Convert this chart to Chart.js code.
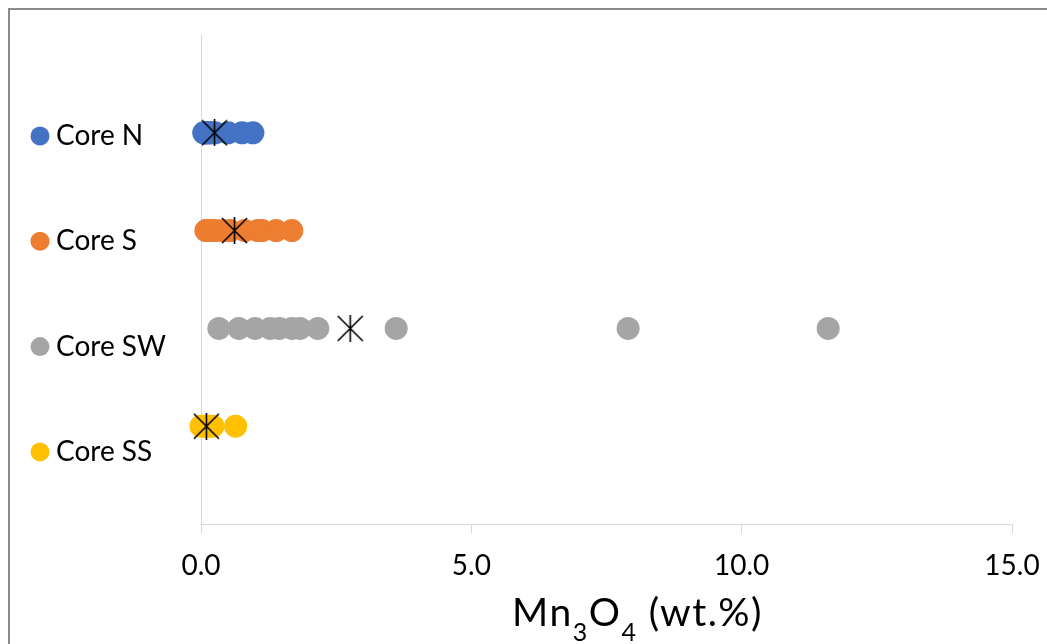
<!DOCTYPE html>
<html>
<head>
<meta charset="utf-8">
<script src="https://cdn.jsdelivr.net/npm/chart.js@4.4.1/dist/chart.umd.min.js"></script>
<style>
  html, body { margin: 0; padding: 0; background: #fff; overflow: hidden; }
  #wrap { position: relative; width: 1047px; height: 644px; }
</style>
</head>
<body>
<div id="wrap"><canvas id="c" width="1047" height="644"></canvas></div>
<script>
// Mn3O4 content (wt.%) measured in each core
const categories = ['Core N', 'Core S', 'Core SW', 'Core SS'];
const coreN  = [0.05, 0.07, 0.10, 0.12, 0.15, 0.20, 0.26, 0.50, 0.76, 0.96];
const coreS  = [0.09, 0.12, 0.18, 0.26, 0.40, 0.54, 0.81, 1.05, 1.13, 1.39, 1.68];
const coreSW = [0.33, 0.70, 1.00, 1.28, 1.45, 1.68, 1.83, 2.16, 3.61, 7.90, 11.60];
const coreSS = [0.00, 0.05, 0.10, 0.15, 0.22, 0.64];
// mean of each core (asterisk marker)
const coreMeans = [0.25, 0.62, 2.76, 0.10];
// x axis tick values
const xTickValues = [0, 5, 10, 15];

const seriesValues = [coreN, coreS, coreSW, coreSS];
const seriesColors = ['#4472C4', '#ED7D31', '#A5A5A5', '#FFC000'];
const FONT = 'Lato, "Open Sans", sans-serif';

// each core sits on its own row: top row first
const rowOf = i => categories.length - i;

// asterisk-like mean marker: an X with a vertical bar
function meanMarker(size) {
  const c = document.createElement('canvas');
  c.width = size; c.height = size;
  const g = c.getContext('2d');
  g.strokeStyle = '#000';
  g.lineWidth = 1.6;
  g.beginPath();
  g.moveTo(1, 1); g.lineTo(size - 1, size - 1);
  g.moveTo(size - 1, 1); g.lineTo(1, size - 1);
  g.moveTo(size / 2, 0); g.lineTo(size / 2, size);
  g.stroke();
  return c;
}

const datasets = categories.map((name, i) => ({
  label: name,
  data: seriesValues[i].map(v => ({ x: v, y: rowOf(i) })),
  backgroundColor: seriesColors[i],
  borderColor: seriesColors[i],
  borderWidth: 0,
  pointRadius: 11.5,
  pointHoverRadius: 11.5,
  clip: false,
  order: 1
}));
datasets.push({
  label: 'Mean',
  data: coreMeans.map((v, i) => ({ x: v, y: rowOf(i) })),
  pointStyle: meanMarker(27),
  pointRadius: 13,
  clip: false,
  order: 0
});

// outer frame of the chart panel
const framePlugin = {
  id: 'frame',
  beforeDraw(chart) {
    const ctx = chart.ctx;
    ctx.save();
    ctx.fillStyle = '#fff';
    ctx.fillRect(0, 0, chart.width, chart.height);
    ctx.strokeStyle = '#8c8c8c';
    ctx.lineWidth = 2;
    ctx.beginPath();
    ctx.moveTo(9, chart.height + 5);
    ctx.lineTo(9, 9);
    ctx.lineTo(chart.width + 5, 9);
    ctx.stroke();
    ctx.restore();
  }
};

// legend column on the left
const sideLegend = {
  id: 'sideLegend',
  afterDraw(chart) {
    const ctx = chart.ctx;
    ctx.save();
    ctx.font = '28px ' + FONT;
    ctx.textBaseline = 'alphabetic';
    ctx.textAlign = 'left';
    categories.forEach((name, i) => {
      const cy = 136 + i * 105.3;
      ctx.fillStyle = seriesColors[i];
      ctx.beginPath();
      ctx.arc(40, cy, 9.5, 0, Math.PI * 2);
      ctx.fill();
      ctx.fillStyle = '#000';
      ctx.fillText(name, 56, cy + 9);
    });
    ctx.restore();
  }
};

// x axis title with subscripts: Mn3O4 (wt.%)
const axisTitle = {
  id: 'axisTitle',
  afterDraw(chart) {
    const ctx = chart.ctx;
    const parts = [
      { t: 'Mn', sub: false }, { t: '3', sub: true },
      { t: 'O', sub: false }, { t: '4', sub: true },
      { t: ' (wt.%)', sub: false }
    ];
    const bigFont = '39px ' + FONT, smallFont = '25px ' + FONT;
    ctx.save();
    ctx.fillStyle = '#000';
    ctx.textBaseline = 'alphabetic';
    ctx.textAlign = 'left';
    if ('letterSpacing' in ctx) ctx.letterSpacing = '1.5px';
    let total = 0;
    parts.forEach(p => { ctx.font = p.sub ? smallFont : bigFont; p.w = ctx.measureText(p.t).width; total += p.w; });
    const ca = chart.chartArea;
    let x = (ca.left + ca.right) / 2 + 31 - total / 2;
    const base = 626;
    parts.forEach(p => {
      ctx.font = p.sub ? smallFont : bigFont;
      ctx.fillText(p.t, x, p.sub ? base + 15 : base);
      x += p.w;
    });
    ctx.restore();
  }
};

new Chart(document.getElementById('c'), {
  type: 'scatter',
  data: { datasets },
  options: {
    responsive: false,
    animation: false,
    devicePixelRatio: 1,
    layout: { padding: { left: 201, right: 35, top: 35, bottom: 0 } },
    plugins: { legend: { display: false }, tooltip: { enabled: false } },
    scales: {
      x: {
        type: 'linear',
        min: 0,
        max: 15,
        afterBuildTicks: s => { s.ticks = xTickValues.map(v => ({ value: v })); },
        afterFit: s => { s.height = 120; s.paddingLeft = 0; s.paddingRight = 0; },
        ticks: {
          callback: v => Number(v).toFixed(1),
          font: { family: FONT, size: 28 },
          color: '#000',
          padding: 16,
          maxRotation: 0
        },
        grid: {
          color: c => (c.tick && c.tick.value === 0) ? '#d9d9d9' : 'rgba(0,0,0,0)',
          tickColor: '#d9d9d9',
          tickLength: 9,
          lineWidth: 1
        },
        border: { color: '#d9d9d9', width: 1 }
      },
      y: { type: 'linear', min: 0, max: 5, display: false }
    }
  },
  plugins: [framePlugin, sideLegend, axisTitle]
});
</script>
</body>
</html>
